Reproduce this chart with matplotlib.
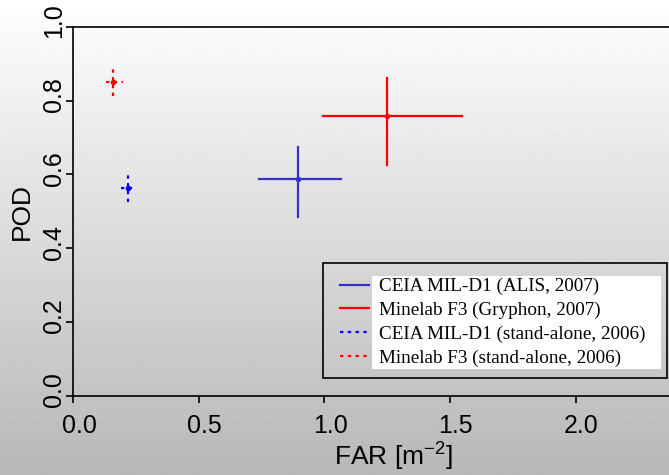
import matplotlib
matplotlib.use("Agg")
import matplotlib.pyplot as plt
import matplotlib.transforms as mtransforms
from matplotlib.patches import Rectangle
import numpy as np

# FAR / POD with error ranges
labels = ['CEIA MIL-D1 (ALIS, 2007)', 'Minelab F3 (Gryphon, 2007)',
          'CEIA MIL-D1 (stand-alone, 2006)', 'Minelab F3 (stand-alone, 2006)']
far = [0.895, 1.248, 0.220, 0.160]
far_lo = [0.741, 0.996, 0.191, 0.130]
far_hi = [1.065, 1.547, 0.238, 0.198]
pod = [0.587, 0.759, 0.564, 0.851]
pod_lo = [0.485, 0.626, 0.526, 0.813]
pod_hi = [0.673, 0.860, 0.597, 0.885]
colors = ['#3333cc', '#ff0000', '#0000ff', '#ff0000']
styles = ['-', '-', (0, (1.5, 2)), (0, (1.5, 2))]

W, H = 669, 475
fig = plt.figure(figsize=(W / 100, H / 100), dpi=100)

# grey gradient background
bg = fig.add_axes([0, 0, 1, 1], zorder=-10)
grad = np.linspace(1.0, 0.72, 256).reshape(-1, 1)
bg.imshow(grad, aspect='auto', cmap='gray', vmin=0, vmax=1, extent=[0, 1, 0, 1])
bg.axis('off')

ax = fig.add_axes([73 / W, 1 - 395.7 / H, 640 / W, 369 / H])
ax.set_facecolor('none')

for i in range(4):
    ax.plot([far_lo[i], far_hi[i]], [pod[i], pod[i]], color=colors[i],
            ls=styles[i], lw=1.6, label=labels[i])
    ax.plot([far[i], far[i]], [pod_lo[i], pod_hi[i]], color=colors[i],
            ls=styles[i], lw=1.6)
    ax.plot(far[i], pod[i], 'o', color=colors[i], ms=3)

ax.set_xlim(0, 2.547)
ax.set_ylim(0, 1.0)
ax.set_xticks([0.0, 0.5, 1.0, 1.5, 2.0])
ax.set_yticks([0.0, 0.2, 0.4, 0.6, 0.8, 1.0])
ax.set_xticklabels(['0.0', '0.5', '1.0', '1.5', '2.0'])
ax.set_yticklabels(['0.0', '0.2', '0.4', '0.6', '0.8', '1.0'], rotation=90, va='center')
ax.tick_params(direction='out', length=5, width=1.2, labelsize=18)
ax.tick_params(axis='x', pad=8)
ax.tick_params(axis='y', pad=0)
# labels sit slightly off-centre in the original
shift_x = mtransforms.ScaledTranslation(6 / 100, 0, fig.dpi_scale_trans)
shift_y = mtransforms.ScaledTranslation(0, 6 / 100, fig.dpi_scale_trans)
for lab in ax.get_xticklabels():
    lab.set_family('Liberation Sans')
    lab.set_transform(lab.get_transform() + shift_x)
for lab in ax.get_yticklabels():
    lab.set_family('Liberation Sans')
    lab.set_transform(lab.get_transform() + shift_y)
for s in ax.spines.values():
    s.set_linewidth(1.2)
ax.set_xlabel(r'FAR [m$^{\mathregular{-2}}$]', fontsize=19, family='Liberation Sans', labelpad=1)
ax.set_ylabel('POD', fontsize=19, family='Liberation Sans', labelpad=6)

leg = ax.legend(loc='upper left', bbox_to_anchor=(0.42, 0.4),
                prop={'family': 'Liberation Serif', 'size': 13.8},
                frameon=False, handlelength=1.5, handletextpad=0.55,
                labelspacing=0.33, borderpad=0, borderaxespad=0)
leg.set_zorder(7)

# place legend: handles start at x=340px, first text centred at y=286.7px (from top)
fig.canvas.draw()
r = fig.canvas.get_renderer()
lb = leg.get_window_extent(r)
t0 = leg.get_texts()[0].get_window_extent(r)
dx = 340 - lb.x0
dy = (H - 286.7) - (t0.y0 + t0.y1) / 2
new_anchor = ax.transAxes.inverted().transform((lb.x0 + dx, lb.y1 + dy))
leg.set_bbox_to_anchor(tuple(new_anchor), transform=ax.transAxes)
fig.canvas.draw()

# white block behind the legend texts
ext = [t.get_window_extent(r) for t in leg.get_texts()]
x0 = min(e.x0 for e in ext) - 7
x1 = 661
y0 = min(e.y0 for e in ext) - 2
y1 = max(e.y1 for e in ext) + 2
ax.add_patch(Rectangle((x0 / W, y0 / H), (x1 - x0) / W, (y1 - y0) / H,
                       transform=fig.transFigure, facecolor='white',
                       edgecolor='none', zorder=4, clip_on=False))
# legend frame
ax.add_patch(Rectangle((322.7 / W, (H - 377.7) / H), (666.7 - 322.7) / W, 115 / H,
                       transform=fig.transFigure, facecolor='none',
                       edgecolor='black', lw=1.2, zorder=6, clip_on=False))

fig.savefig('out.png', dpi=100)
